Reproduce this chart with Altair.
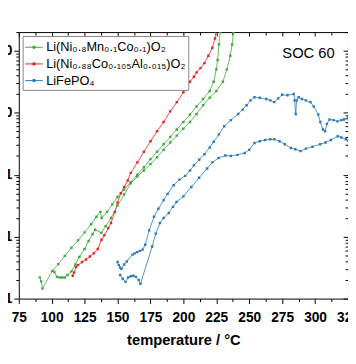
import altair as alt
import pandas as pd

MATERIALS = ["Li(Ni₀.₈Mn₀.₁Co₀.₁)O₂", "Li(Ni₀.₈₈Co₀.₁₀₅Al₀.₀₁₅)O₂", "LiFePO₄"]
COLORS = ["#3ea83a", "#e8231f", "#2a7ab8"]

# NMC811, two runs
nmc_a_T = [91, 92, 93, 100.5, 105, 110, 115, 120, 125, 130, 134, 137, 138, 142, 146, 150, 155, 160, 165,
           170, 175, 180, 185, 190, 195, 200, 205, 210, 215, 220, 223, 225, 226, 227, 228]
nmc_a_v = [0.022, 0.019, 0.0145, 0.028, 0.036, 0.049, 0.066, 0.087, 0.117, 0.158, 0.209, 0.251, 0.2, 0.251,
           0.331, 0.437, 0.575, 0.759, 1.0, 1.32, 1.78, 2.34, 3.09, 4.07, 5.37, 7.08, 9.33, 12.6, 16.6, 22.4,
           31.6, 50, 71, 126, 200]
nmc_b_T = [102, 104, 106, 108, 110, 112, 115, 118, 121, 125, 128, 131, 133, 137.7, 141, 145, 150, 155, 160,
           165, 170, 175, 180, 185, 190, 195, 200, 205, 210, 215, 220, 225, 230, 233, 235.6, 237, 238]
nmc_b_v = [0.0269, 0.0224, 0.0219, 0.0219, 0.0219, 0.024, 0.0275, 0.0355, 0.0468, 0.063, 0.085, 0.11, 0.129,
           0.115, 0.148, 0.2, 0.316, 0.479, 0.724, 0.933, 1.17, 1.48, 1.91, 2.51, 3.31, 4.27, 5.5, 7.08, 9.55,
           13.2, 17.4, 22.4, 31.6, 50.1, 83.2, 126, 200]

# NCA
nca_T = [116, 117, 118.4, 120, 123, 126, 129, 132, 135, 137.8, 140, 143, 145, 148, 150, 152.5, 155, 157.7,
         160, 165, 170, 175, 180, 185, 190, 195, 200, 205, 208, 210, 213, 216, 219, 222, 224, 225]
nca_v = [0.0234, 0.0263, 0.0324, 0.0347, 0.0389, 0.0427, 0.0479, 0.0537, 0.063, 0.0891, 0.105, 0.138, 0.166,
         0.251, 0.355, 0.501, 0.631, 0.804, 1.07, 1.58, 2.34, 3.47, 5.01, 7.08, 10.5, 14.8, 21.4, 31.6, 38,
         44.7, 52.5, 63.1, 83.2, 112, 158, 224]

# LFP, two runs
lfp_a_T = [150, 151, 152, 153, 155, 157, 161.4, 163, 165, 167, 169, 171, 174, 177.7, 181, 185, 188, 192.6,
           197, 201.3, 205, 208, 212, 216, 220, 223, 227, 231, 236, 241.6, 245, 248, 251, 254, 258, 263, 266,
           269, 272, 275, 279, 283.8, 284.5, 285.3, 286, 287.5, 290, 293, 296.5, 299, 302.4, 304, 306, 307.6,
           309, 311, 314, 317, 320, 322, 325]
lfp_a_v = [0.0389, 0.0347, 0.0316, 0.0302, 0.0355, 0.0398, 0.0513, 0.0537, 0.0562, 0.0589, 0.0617, 0.0741,
           0.126, 0.209, 0.282, 0.389, 0.49, 0.676, 0.832, 0.955, 1.17, 1.41, 1.74, 2.14, 2.75, 3.39, 4.47,
           6.03, 7.59, 9.55, 11.2, 13.2, 15.8, 17.8, 17.4, 16.6, 15.8, 14.8, 17.0, 19.5, 19.1, 20.0, 15.8,
           9.55, 15.8, 17.8, 16.6, 15.8, 14.8, 12.6, 9.33, 7.08, 5.37, 5.01, 6.61, 7.76, 7.59, 7.24, 7.59,
           7.76, 8.32]
lfp_b_T = [152, 154, 156, 158, 160, 162, 164, 166, 167.4, 176.3, 179, 182.2, 185, 188.9, 192, 194.8, 200,
           206, 211.9, 218, 222, 226.7, 231.9, 236, 241, 246.6, 250, 254, 258, 262, 266, 269, 273, 277, 281.6,
           285, 289, 293, 298, 303.9, 308, 312, 317.2, 320, 323.4, 325]
lfp_b_v = [0.024, 0.0209, 0.0186, 0.0219, 0.0229, 0.0234, 0.0224, 0.02, 0.0174, 0.0692, 0.112, 0.166, 0.2,
           0.24, 0.302, 0.363, 0.447, 0.631, 0.891, 1.26, 1.58, 1.86, 2.04, 2.0, 2.09, 2.24, 2.51, 3.24, 3.47,
           3.63, 3.72, 3.72, 3.47, 3.09, 2.69, 2.57, 2.4, 2.63, 2.82, 3.09, 3.31, 3.63, 4.17, 3.98, 3.72, 3.55]

x_ticks = [75 + 12.5 * i for i in range(21)]
y_major = [0.01, 0.1, 1, 10, 100]
y_ticks = []
for d in y_major:
    for k in range(1, 10):
        val = round(d * k, 6)
        if val <= 200:
            y_ticks.append(val)

soc_label = ["SOC 60"]
soc_T = [295]
soc_v = [90]

runs = [
    (MATERIALS[2], "lfp_a", lfp_a_T, lfp_a_v),
    (MATERIALS[2], "lfp_b", lfp_b_T, lfp_b_v),
    (MATERIALS[1], "nca", nca_T, nca_v),
    (MATERIALS[0], "nmc_a", nmc_a_T, nmc_a_v),
    (MATERIALS[0], "nmc_b", nmc_b_T, nmc_b_v),
]
rows = []
for mat, run, Ts, vs in runs:
    for i, (t, v) in enumerate(zip(Ts, vs)):
        rows.append({"material": mat, "run": run, "T": t, "v": v, "idx": i})
df = pd.DataFrame(rows)

FONT = "Liberation Sans"
xscale = alt.Scale(domain=[75, 325], nice=False, zero=False)
yscale = alt.Scale(type="log", domain=[0.01, 200], nice=False)

x_major_test = "datum.value % 25 === 0"
y_major_test = "indexof([0.01, 0.1, 1, 10, 100], datum.value) >= 0"

LEGEND_SYMBOL = "M-1,0L1,0M-0.12,-0.12L0.12,-0.12L0.12,0.12L-0.12,0.12Z"

lines = alt.Chart(df).mark_line(
    strokeWidth=0.8, clip=True,
    point=alt.OverlayMarkDef(filled=True, size=6, shape="square", clip=True),
).encode(
    x=alt.X("T:Q", scale=xscale, axis=alt.Axis(
        orient="bottom", values=x_ticks, title="temperature / °C",
        labelExpr=f"{x_major_test} ? datum.label : ''",
        tickSize={"condition": {"test": x_major_test, "value": 5}, "value": 3},
        labelFont=FONT, labelFontSize=14, labelFontWeight="bold", labelColor="black",
        titleFont=FONT, titleFontSize=15, titleFontWeight="bold", titleColor="black",
        titlePadding=9, labelPadding=7, domainColor="black", tickColor="black",
        labelFlush=False, labelOverlap=False, grid=False)),
    y=alt.Y("v:Q", scale=yscale, axis=alt.Axis(
        orient="left", values=y_ticks, title=None,
        labelExpr=f"{y_major_test} ? format(datum.value, '~g') : ''",
        tickSize={"condition": {"test": y_major_test, "value": 5}, "value": 3},
        labelFont=FONT, labelFontSize=14, labelFontWeight="bold", labelColor="black",
        labelPadding=2, domainColor="black", tickColor="black",
        labelFlush=False, labelOverlap=False, grid=False)),
    color=alt.Color("material:N", scale=alt.Scale(domain=MATERIALS, range=COLORS), legend=alt.Legend(
        orient="none", legendX=4, legendY=4, title=None, strokeColor="#888888", fillColor="white",
        padding=2, labelFont=FONT, labelFontSize=13, labelColor="black", symbolType=LEGEND_SYMBOL,
        symbolSize=324, symbolStrokeWidth=1, labelOffset=3, rowPadding=0, labelLimit=300)),
    detail="run:N",
    order="idx:Q",
)

frame = alt.Chart(df).mark_point(opacity=0).encode(
    x=alt.X("T:Q", scale=xscale, axis=alt.Axis(
        orient="bottom", offset=-272, values=x_ticks, labels=False, title=None,
        tickSize={"condition": {"test": x_major_test, "value": 4}, "value": 3},
        domainColor="black", tickColor="black", grid=False)),
    y=alt.Y("v:Q", scale=yscale, axis=alt.Axis(
        orient="left", offset=-336, values=y_ticks, labels=False, title=None,
        tickSize={"condition": {"test": y_major_test, "value": 5}, "value": 3},
        domainColor="black", tickColor="black", grid=False)),
)

soc = alt.Chart(pd.DataFrame({"T": soc_T, "v": soc_v, "label": soc_label})).mark_text(
    font=FONT, fontSize=15, color="black", align="center", baseline="middle"
).encode(x=alt.X("T:Q", scale=xscale, axis=None), y=alt.Y("v:Q", scale=yscale, axis=None),
         text="label:N")

chart = alt.layer(lines, soc, frame).resolve_axis(x="independent", y="independent").properties(
    width=336, height=272,
    autosize=alt.AutoSizeParams(type="none"),
    padding={"left": 11, "top": 21, "right": 0, "bottom": 55},
).configure_view(stroke=None)

chart.save("out.html", embed_options={"renderer": "svg", "actions": False})
